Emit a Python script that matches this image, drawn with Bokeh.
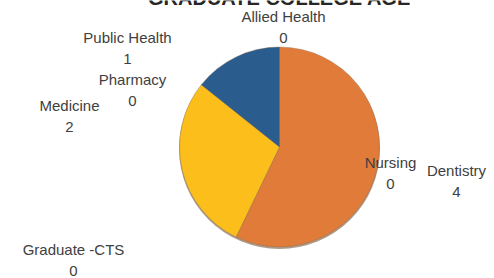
import numpy as np
from bokeh.plotting import figure
from bokeh.models import Range1d, ColumnDataSource
from bokeh.core.properties import value
from bokeh.embed import file_html
from bokeh.resources import INLINE

# ---- data ----
title = "GRADUATE COLLEGE AGE"
categories = ["Allied Health", "Dentistry", "Graduate -CTS", "Medicine",
              "Nursing", "Pharmacy", "Public Health"]
counts = [0, 4, 0, 2, 0, 0, 1]
colors = ["#4472C4", "#E07B39", "#A5A5A5", "#FBBE1A", "#5B9BD5", "#70AD47", "#2B5C8E"]

# ---- layout (pixel coordinates of label centres, manually placed in original) ----
label_pos = {
    "Allied Health": (283, 16),
    "Dentistry": (456, 170),
    "Graduate -CTS": (73, 249),
    "Medicine": (69, 105),
    "Nursing": (390, 162),
    "Pharmacy": (132, 79),
    "Public Health": (127, 37),
}
line_gap = 21
W, H = 494, 278
cx, cy, r = 279, 146.5, 100

def Y(py):
    return H - py

p = figure(width=W, height=H, output_backend="svg", toolbar_location=None,
           x_range=Range1d(0, W), y_range=Range1d(0, H), min_border=0,
           background_fill_color="white", border_fill_color="white")
p.axis.visible = False
p.grid.visible = False
p.outline_line_color = None

vals = np.array(counts, dtype=float)
frac = vals / vals.sum()
ends = np.cumsum(frac) * 2 * np.pi
starts = ends - frac * 2 * np.pi
start_angle = np.pi / 2 - starts
end_angle = np.pi / 2 - ends

# soft shadow
p.circle(x=[cx], y=[Y(cy) - 1.5], radius=r + 0.5, fill_color="#6b4a2a",
         fill_alpha=0.55, line_color=None)

mask = [i for i, v in enumerate(counts) if v > 0]
src_nz = ColumnDataSource(dict(start=[start_angle[i] for i in mask],
                               end=[end_angle[i] for i in mask],
                               color=[colors[i] for i in mask]))
p.wedge(x=cx, y=Y(cy), radius=r, start_angle="start", end_angle="end",
        direction="clock", fill_color="color", line_color="#8a6a50",
        line_width=0.6, line_alpha=0.6, source=src_nz)

# labels
names_x = [label_pos[c][0] for c in categories]
names_y = [Y(label_pos[c][1]) for c in categories]
vals_y = [Y(label_pos[c][1] + line_gap) for c in categories]
p.text(x=names_x, y=names_y, text=categories, text_align="center",
       text_baseline="middle", text_font=value("Liberation Sans"),
       text_font_size="15px", text_color="#404040")
p.text(x=names_x, y=vals_y, text=[str(v) for v in counts], text_align="center",
       text_baseline="middle", text_font=value("Liberation Sans"),
       text_font_size="15px", text_color="#404040")

# title (cut off at top in the reference)
p.text(x=[279], y=[Y(-3)], text=[title], text_align="center",
       text_baseline="alphabetic", text_font=value("Liberation Sans"),
       text_font_style="bold", text_font_size="20px", text_color="#262626")

open("out.html", "w").write(file_html(p, INLINE))
